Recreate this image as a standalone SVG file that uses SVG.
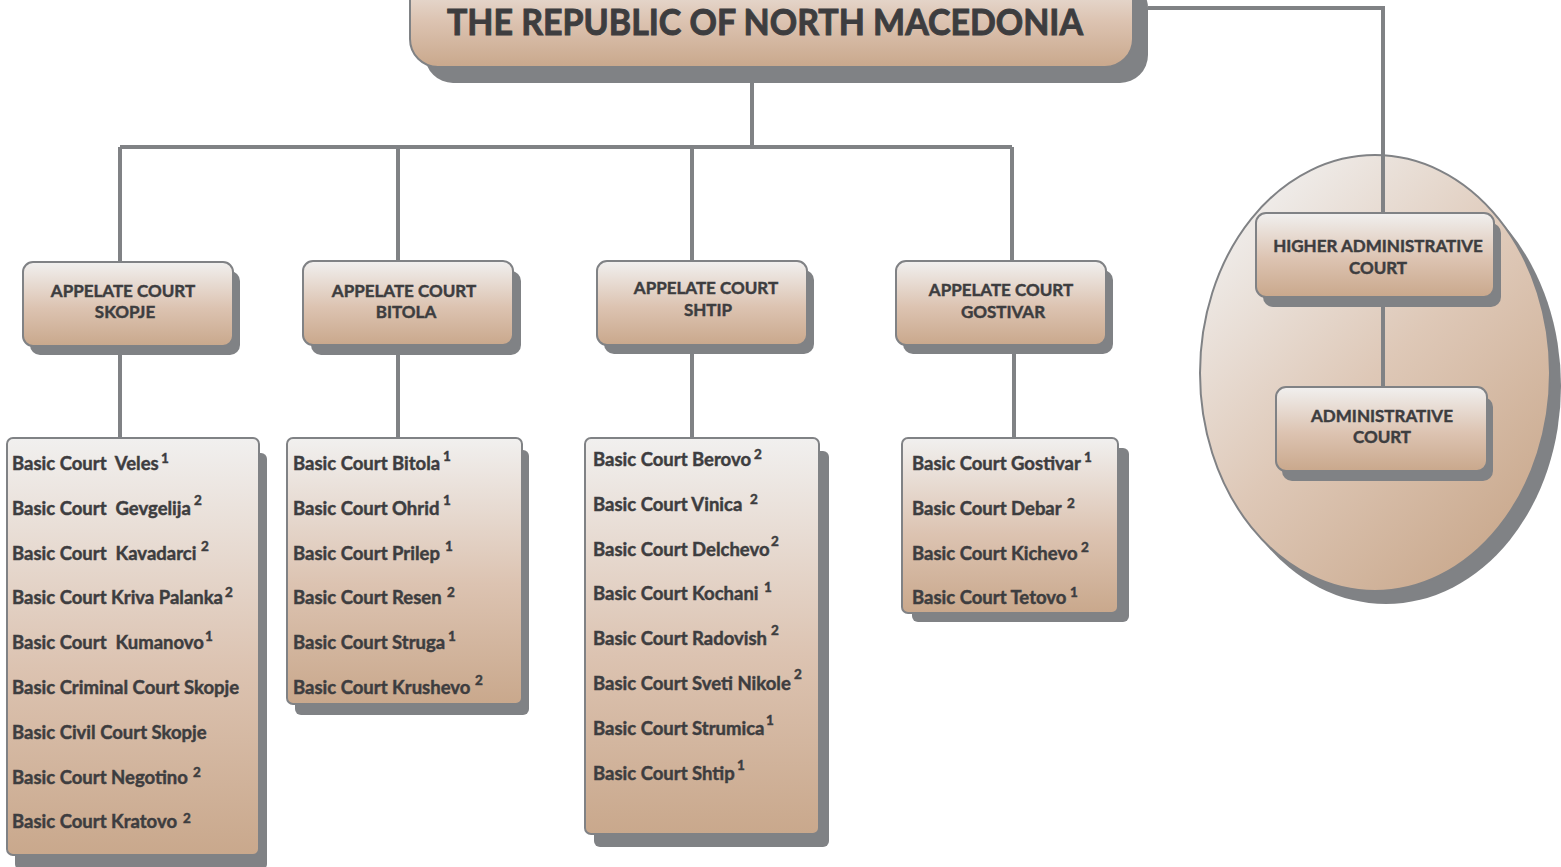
<svg xmlns="http://www.w3.org/2000/svg" width="1561" height="867" viewBox="0 0 1561 867">
<defs>
<linearGradient id="g" x1="0" y1="0" x2="0" y2="1">
<stop offset="0" stop-color="#f1f0ef"/>
<stop offset="0.55" stop-color="#dcc3b1"/>
<stop offset="1" stop-color="#c9a88c"/>
</linearGradient>
<linearGradient id="ge" x1="0.15" y1="0.05" x2="0.85" y2="0.95">
<stop offset="0" stop-color="#f1f0ef"/>
<stop offset="0.5" stop-color="#dec8b7"/>
<stop offset="1" stop-color="#c9a88c"/>
</linearGradient>
<style>
.sh{fill:#808285}
.bx{fill:url(#g);stroke:#808285;stroke-width:2}
.ln{stroke:#808285;stroke-width:4;fill:none}
.t{font-family:Lato,"Open Sans",sans-serif;font-weight:bold;fill:#3d3d3f;stroke:#3d3d3f;stroke-width:0.45;white-space:pre}
.hd{font-size:17px;text-anchor:middle}
.it{font-size:18.5px}
.sp{font-size:13.5px;text-anchor:middle}
.ti{font-size:37px;text-anchor:middle;stroke-width:1}
</style>
</defs>

<g id="admin-group">
<ellipse class="sh" cx="1386" cy="386" rx="175" ry="218"/>
<ellipse cx="1375" cy="373" rx="175" ry="218" fill="url(#ge)" stroke="#808285" stroke-width="2"/>
</g>

<g id="connectors">
<path class="ln" d="M752 83V147M120 147H1012M120 147V262M398 147V262M692 147V262M1012 147V262"/>
<path class="ln" d="M1148 8H1383V213"/>
<path class="ln" d="M120 355V438M398 355V438M692 354V438M1014 354V438"/>
<path class="ln" d="M1383 307V387"/>
</g>

<g id="title">
<rect class="sh" x="425" y="-20" width="723" height="103" rx="28"/>
<rect class="bx" x="410" y="-35" width="723" height="102" rx="28"/>
<text class="t ti" x="765" y="35" textLength="636" lengthAdjust="spacingAndGlyphs">THE REPUBLIC OF NORTH MACEDONIA</text>
</g>

<g id="appellate-skopje">
<rect class="sh" x="30" y="271" width="210" height="84" rx="10"/>
<rect class="bx" x="23" y="262" width="210" height="84" rx="10"/>
<text class="t hd" x="123" y="297">APPELATE COURT</text>
<text class="t hd" x="125" y="318">SKOPJE</text>
</g>
<g id="appellate-bitola">
<rect class="sh" x="311" y="271" width="210" height="84" rx="10"/>
<rect class="bx" x="303" y="261" width="210" height="84" rx="10"/>
<text class="t hd" x="404" y="297">APPELATE COURT</text>
<text class="t hd" x="406" y="318">BITOLA</text>
</g>
<g id="appellate-shtip">
<rect class="sh" x="604" y="270" width="210" height="84" rx="10"/>
<rect class="bx" x="597" y="261" width="210" height="84" rx="10"/>
<text class="t hd" x="706" y="294">APPELATE COURT</text>
<text class="t hd" x="708" y="316">SHTIP</text>
</g>
<g id="appellate-gostivar">
<rect class="sh" x="903" y="270" width="210" height="84" rx="10"/>
<rect class="bx" x="896" y="261" width="210" height="84" rx="10"/>
<text class="t hd" x="1001" y="296">APPELATE COURT</text>
<text class="t hd" x="1003" y="318">GOSTIVAR</text>
</g>

<g id="higher-administrative-court">
<rect class="sh" x="1263" y="223" width="238" height="84" rx="10"/>
<rect class="bx" x="1256" y="213" width="238" height="84" rx="10"/>
<text class="t hd" x="1378" y="252">HIGHER ADMINISTRATIVE</text>
<text class="t hd" x="1378" y="274">COURT</text>
</g>
<g id="administrative-court">
<rect class="sh" x="1282" y="397" width="211" height="84" rx="10"/>
<rect class="bx" x="1276" y="387" width="211" height="84" rx="10"/>
<text class="t hd" x="1382" y="422">ADMINISTRATIVE</text>
<text class="t hd" x="1382" y="443">COURT</text>
</g>

<g id="basic-skopje">
<rect class="sh" x="15" y="453" width="252" height="417" rx="6"/>
<rect class="bx" x="7" y="438" width="252" height="417" rx="6"/>
<text class="t it" x="12" y="470">Basic Court  Veles</text><text class="t sp" x="165" y="463">1</text>
<text class="t it" x="12" y="515">Basic Court  Gevgelija</text><text class="t sp" x="198" y="505">2</text>
<text class="t it" x="12" y="560">Basic Court  Kavadarci</text><text class="t sp" x="205" y="551">2</text>
<text class="t it" x="12" y="604">Basic Court Kriva Palanka</text><text class="t sp" x="229" y="597">2</text>
<text class="t it" x="12" y="649">Basic Court  Kumanovo</text><text class="t sp" x="209" y="641">1</text>
<text class="t it" x="12" y="694">Basic Criminal Court Skopje</text>
<text class="t it" x="12" y="739">Basic Civil Court Skopje</text>
<text class="t it" x="12" y="784">Basic Court Negotino</text><text class="t sp" x="197" y="777">2</text>
<text class="t it" x="12" y="828">Basic Court Kratovo</text><text class="t sp" x="187" y="823">2</text>
</g>

<g id="basic-bitola">
<rect class="sh" x="295" y="450" width="234" height="265" rx="6"/>
<rect class="bx" x="287" y="438" width="235" height="266" rx="6"/>
<text class="t it" x="293" y="470">Basic Court Bitola</text><text class="t sp" x="447" y="461">1</text>
<text class="t it" x="293" y="515">Basic Court Ohrid</text><text class="t sp" x="447" y="505">1</text>
<text class="t it" x="293" y="560">Basic Court Prilep</text><text class="t sp" x="449" y="551">1</text>
<text class="t it" x="293" y="604">Basic Court Resen</text><text class="t sp" x="451" y="597">2</text>
<text class="t it" x="293" y="649">Basic Court Struga</text><text class="t sp" x="452" y="641">1</text>
<text class="t it" x="293" y="694">Basic Court Krushevo</text><text class="t sp" x="479" y="685">2</text>
</g>

<g id="basic-shtip">
<rect class="sh" x="594" y="451" width="235" height="396" rx="6"/>
<rect class="bx" x="585" y="438" width="234" height="396" rx="6"/>
<text class="t it" x="593" y="466">Basic Court Berovo</text><text class="t sp" x="758" y="459">2</text>
<text class="t it" x="593" y="511">Basic Court Vinica</text><text class="t sp" x="754" y="504">2</text>
<text class="t it" x="593" y="556">Basic Court Delchevo</text><text class="t sp" x="775" y="546">2</text>
<text class="t it" x="593" y="600">Basic Court Kochani</text><text class="t sp" x="768" y="592">1</text>
<text class="t it" x="593" y="645">Basic Court Radovish</text><text class="t sp" x="775" y="635">2</text>
<text class="t it" x="593" y="690">Basic Court Sveti Nikole</text><text class="t sp" x="798" y="679">2</text>
<text class="t it" x="593" y="735">Basic Court Strumica</text><text class="t sp" x="770" y="725">1</text>
<text class="t it" x="593" y="780">Basic Court Shtip</text><text class="t sp" x="741" y="770">1</text>
</g>

<g id="basic-gostivar">
<rect class="sh" x="912" y="448" width="217" height="174" rx="6"/>
<rect class="bx" x="902" y="438" width="216" height="175" rx="6"/>
<text class="t it" x="912" y="470">Basic Court Gostivar</text><text class="t sp" x="1088" y="462">1</text>
<text class="t it" x="912" y="515">Basic Court Debar</text><text class="t sp" x="1071" y="508">2</text>
<text class="t it" x="912" y="560">Basic Court Kichevo</text><text class="t sp" x="1085" y="552">2</text>
<text class="t it" x="912" y="604">Basic Court Tetovo</text><text class="t sp" x="1074" y="597">1</text>
</g>
</svg>
